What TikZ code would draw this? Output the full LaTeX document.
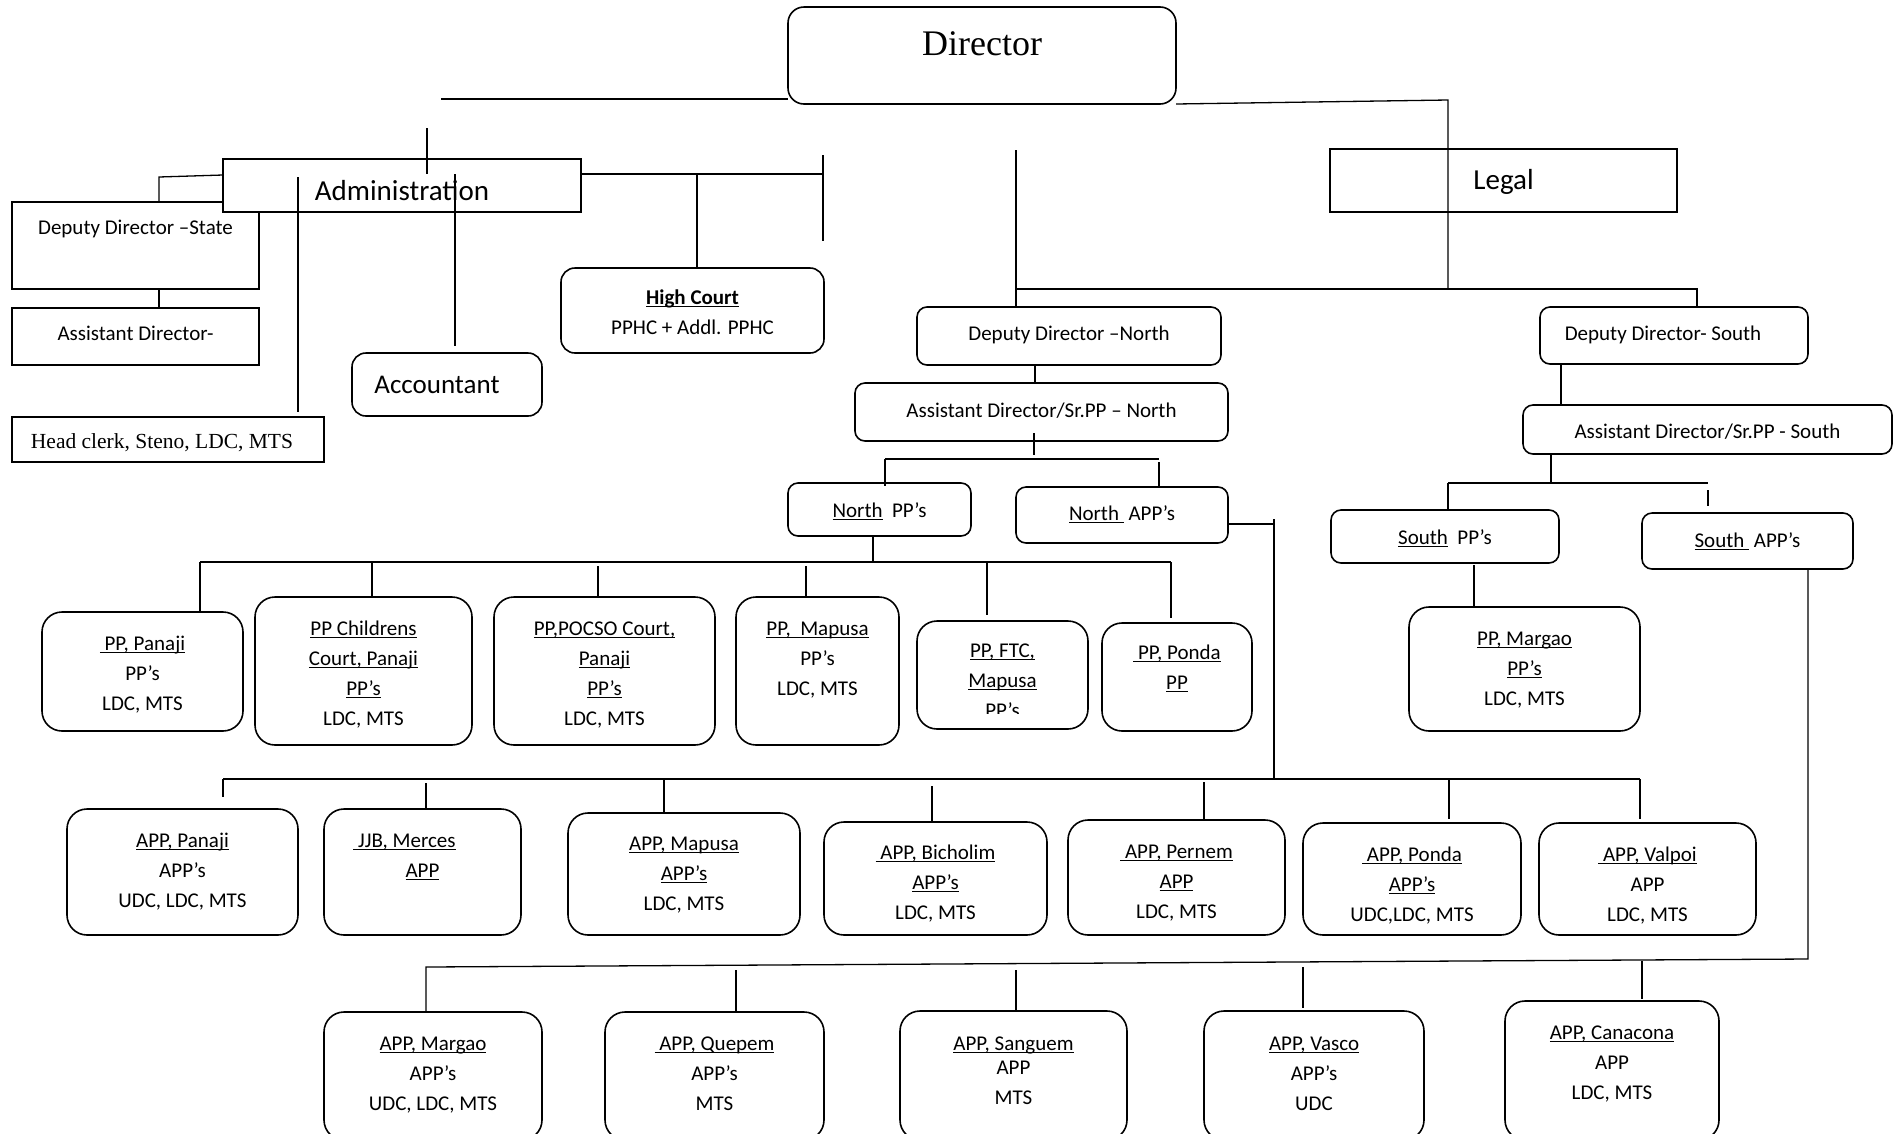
\documentclass[tikz,border=0pt]{standalone}
\usepackage{fontspec}
\setmainfont{Carlito}
\newfontfamily\tnr{Liberation Serif}
\newcommand\ulx[1]{\setbox0=\hbox{#1}\rlap{\rule[-3.2pt]{\wd0}{1.5pt}}\box0}
\tikzset{
  conn/.style={line width=1.3pt},
  sqbox/.style={draw, line width=1.4pt, fill=white, inner sep=0pt, outer sep=0pt},
  rbox/.style={draw, line width=1.6pt, fill=white, rounded corners=20pt, inner sep=0pt, outer sep=0pt},
  rmbox/.style={draw, line width=1.6pt, fill=white, rounded corners=14pt, inner sep=0pt, outer sep=0pt},
  rsbox/.style={draw, line width=1.6pt, fill=white, rounded corners=10pt, inner sep=0pt, outer sep=0pt},
  txt/.style={inner sep=0pt, font=\fontsize{21}{30}\selectfont},
  bigtxt/.style={inner sep=0pt, font=\fontsize{29}{34}\selectfont},
}
% style, name, x1, y1, x2, y2, baseline offset, text
\newcommand\bx[8][rbox]{%
  \node[#1, anchor=north west, minimum width={#5-#3}, minimum height={#6-#4}] (#2) at (#3,#4) {};
  \node[txt, anchor=base] (#2t) at ([yshift=-#7pt]#2.north) {\begin{tabular}[t]{@{}c@{}}#8\end{tabular}};}
\begin{document}
\begin{tikzpicture}[x=1pt,y=-1pt]
\useasboundingbox (0,0) rectangle (1894,1133);
\clip (0,0) rectangle (1894,1133);

% ---------- top level ----------
\node[draw, line width=1.6pt, fill=white, rounded corners=16pt, inner sep=0pt, outer sep=0pt,
      anchor=north west, minimum width=388, minimum height=97] (Director) at (788,7) {};
\node[inner sep=0pt, anchor=base, font=\tnr\fontsize{36}{40}\selectfont] (Directort) at ([yshift=-48pt]Director.north) {Director};

% ---------- administration side ----------
\bx[sqbox]{DDState}{12}{202}{259}{289}{32}{Deputy Director –State}
\node[sqbox, anchor=north west, minimum width=358, minimum height=53] (Admin) at (223,159) {};
\node[bigtxt, anchor=base] (Admint) at ([yshift=-41pt]Admin.north) {Administration};
\bx[sqbox]{AsstDir}{12}{308}{259}{365}{32}{Assistant Director-}
\node[sqbox, anchor=north west, minimum width=312, minimum height=45] (Head) at (12,417) {};
\node[inner sep=0pt, anchor=base, font=\tnr\fontsize{21.5}{26}\selectfont] (Headt) at ([yshift=-31pt]Head.north) {Head clerk, Steno, LDC, MTS\hspace*{12pt}};
\node[rmbox, anchor=north west, minimum width=190, minimum height=63] (Acc) at (352,353) {};
\node[inner sep=0pt, anchor=base, font=\fontsize{27}{32}\selectfont] (Acct) at ([yshift=-40pt]Acc.north) {Accountant\hspace*{20pt}};
\bx[rmbox]{HC}{561}{268}{824}{353}{36}{\ulx{\bfseries High Court}\\PPHC + Addl. PPHC}

% ---------- legal side ----------
\node[sqbox, anchor=north west, minimum width=347, minimum height=63] (Legal) at (1330,149) {};
\node[bigtxt, anchor=base] (Legalt) at ([yshift=-40pt]Legal.north) {Legal};
\bx[rsbox]{DDN}{917}{307}{1221}{365}{33}{Deputy Director –North}
\bx[rsbox]{ADN}{855}{383}{1228}{441}{34}{Assistant Director/Sr.PP – North}
\bx[rsbox]{DDS}{1540}{307}{1808}{364}{33}{Deputy Director- South\hspace*{22pt}}
\bx[rsbox]{ADS}{1523}{405}{1892}{454}{33}{Assistant Director/Sr.PP - South}
\bx[rsbox]{NPP}{788}{483}{971}{536}{34}{\ulx{North}\ \ PP’s}
\bx[rsbox]{NAPP}{1016}{487}{1228}{543}{33}{\ulx{North\ }\ APP’s}
\bx[rsbox]{SPP}{1331}{510}{1559}{563}{34}{\ulx{South}\ \ PP’s}
\bx[rsbox]{SAPP}{1642}{513}{1853}{569}{34}{\ulx{South\ }\ APP’s}

% ---------- PP row ----------
\bx{PPpan}{42}{612}{243}{731}{38}{\ulx{\ PP, Panaji}\\PP’s\\LDC, MTS}
\bx{PPchild}{255}{597}{472}{745}{38}{\ulx{PP Childrens}\\\ulx{Court, Panaji}\\\ulx{PP’s}\\LDC, MTS}
\bx{PPpocso}{494}{597}{715}{745}{38}{\ulx{PP,POCSO Court,}\\\ulx{Panaji}\\\ulx{PP’s}\\LDC, MTS}
\bx{PPmap}{736}{597}{899}{745}{38}{\ulx{PP,\ \ Mapusa}\\PP’s\\LDC, MTS}
\bx{PPftc}{917}{621}{1088}{729}{36}{\ulx{PP, FTC,}\\\ulx{Mapusa}}
\begin{scope}
  \clip (917,690) rectangle (1088,713);
  \node[txt, anchor=base] (PPftc3) at ([yshift=-96pt]PPftc.north) {PP’s};
\end{scope}
\bx{PPponda}{1102}{623}{1252}{731}{36}{\ulx{\ PP, Ponda}\\\ulx{PP}}
\bx{PPmar}{1409}{607}{1640}{731}{38}{\ulx{PP, Margao}\\\ulx{PP’s}\\LDC, MTS}

% ---------- APP row ----------
\bx{APPpan}{67}{809}{298}{935}{38}{\ulx{APP, Panaji}\\APP’s\\UDC, LDC, MTS}
\bx{APPjjb}{324}{809}{521}{935}{38}{\ulx{\ JJB, Merces}\hspace*{36pt}\\\ulx{APP}}
\bx{APPmap}{568}{813}{800}{935}{37}{\ulx{APP, Mapusa}\\\ulx{APP’s}\\LDC, MTS}
\bx{APPbic}{824}{822}{1047}{935}{37}{\ulx{\ APP, Bicholim}\\\ulx{APP’s}\\LDC, MTS}
\bx{APPper}{1068}{820}{1285}{935}{38}{\ulx{\ APP, Pernem}\\\ulx{APP}\\LDC, MTS}
\bx{APPpon}{1303}{823}{1521}{935}{38}{\ulx{\ APP, Ponda}\\\ulx{APP’s}\\UDC,LDC, MTS}
\bx{APPval}{1539}{823}{1756}{935}{38}{\ulx{\ APP, Valpoi}\\APP\\LDC, MTS}

% ---------- bottom row ----------
\bx{APPmar}{324}{1012}{542}{1140}{38}{\ulx{APP, Margao}\\APP’s\\UDC, LDC, MTS}
\bx{APPque}{605}{1012}{824}{1140}{38}{\ulx{\ APP, Quepem}\\APP’s\\MTS}
\bx{APPsan}{900}{1011}{1127}{1140}{39}{\ulx{APP, Sanguem}\\[-6pt]APP\\MTS}
\bx{APPvas}{1204}{1011}{1424}{1140}{39}{\ulx{APP, Vasco}\\APP’s\\UDC}
\bx{APPcan}{1505}{1001}{1719}{1140}{38}{\ulx{APP, Canacona}\\APP\\LDC, MTS}

% ---------- connectors: director ----------
\coordinate (dl) at (441,99);
\draw[conn] (dl) -- (dl -| Director.west);
\coordinate (dr1) at (1448,100);
\coordinate (dr2) at (1448,289);
\draw[conn] (Director.south east) -- (dr1) -- (dr2);
\coordinate (nt) at (1016,150);
\coordinate (nb) at (1016,289);
\coordinate (sb) at (1697,289);
\draw[conn] (nt) -- (nb |- DDN.north);
\draw[conn] (nb) -- (sb) -- (sb |- DDS.north);

% ---------- connectors: administration ----------
\coordinate (a0) at (427,128);
\draw[conn] (a0) -- ++(0,46);
\coordinate (a1) at (455,174);
\draw[conn] (a1) -- ++(0,172);
\coordinate (a2) at (298,177);
\draw[conn] (a2) -- ++(0,235);
\coordinate (a3) at (223,175);
\coordinate (a4) at (159,177);
\draw[conn] (a3) -- (a4) -- (a4 |- DDState.north);
\draw[conn] (a4 |- DDState.south) -- (a4 |- AsstDir.north);
\coordinate (a5) at (823,174);
\draw[conn] (Admin.east |- a5) -- (a5);
\draw[conn] ([yshift=19pt]a5) -- ([yshift=-67pt]a5);
\coordinate (a6) at (697,174);
\draw[conn] (a6) -- (a6 |- HC.north);

% ---------- connectors: north ----------
\coordinate (n1) at (1035,0);
\draw[conn] (n1 |- DDN.south) -- (n1 |- ADN.north);
\coordinate (n2) at (1034,433);
\draw[conn] (n2) -- ++(0,22);
\coordinate (n3) at (885,459);
\coordinate (n4) at (1159,459);
\draw[conn] (n3) -- (n4);
\draw[conn] (n3) -- ([yshift=-3pt]n3 |- NPP.north);
\draw[conn] ([yshift=-3pt]n4) -- (n4 |- NAPP.north);
\coordinate (n5) at (873,562);
\draw[conn] (n5 |- NPP.south) -- (n5);
\coordinate (p0) at (200,562);
\coordinate (p6) at (1171,562);
\draw[conn] (p0) -- (p6);
\draw[conn] (p0) -- (p0 |- PPpan.north);
\coordinate (p1) at (372,562);
\draw[conn] (p1) -- (p1 |- PPchild.north);
\coordinate (p2) at (598,566);
\draw[conn] (p2) -- (p2 |- PPpocso.north);
\coordinate (p3) at (806,566);
\draw[conn] (p3) -- (p3 |- PPmap.north);
\coordinate (p4) at (987,562);
\draw[conn] (p4) -- ([yshift=6pt]p4 |- PPftc.north);
\draw[conn] (p6) -- ([yshift=5pt]p6 |- PPponda.north);

\coordinate (q0) at (1274,524);
\coordinate (q1) at (1274,779);
\draw[conn] (NAPP.east |- q0) -- (q0);
\draw[conn] ([yshift=5pt]q0) -- (q1);
\coordinate (r0) at (223,779);
\coordinate (r6) at (1640,779);
\draw[conn] (r0) -- (r6);
\draw[conn] (r0) -- ++(0,18);
\coordinate (r1) at (426,783);
\draw[conn] (r1) -- (r1 |- APPjjb.north);
\coordinate (r2) at (664,779);
\draw[conn] (r2) -- (r2 |- APPmap.north);
\coordinate (r3) at (932,786);
\draw[conn] (r3) -- (r3 |- APPbic.north);
\coordinate (r4) at (1204,782);
\draw[conn] (r4) -- (r4 |- APPper.north);
\coordinate (r5) at (1449,779);
\draw[conn] (r5) -- ([yshift=4pt]r5 |- APPpon.north);
\draw[conn] (r6) -- ([yshift=4pt]r6 |- APPval.north);

% ---------- connectors: south ----------
\coordinate (s1) at (1561,0);
\draw[conn] (s1 |- DDS.south) -- (s1 |- ADS.north);
\coordinate (s2) at (1551,483);
\draw[conn] (s2 |- ADS.south) -- (s2);
\coordinate (s3) at (1448,483);
\coordinate (s4) at (1708,483);
\draw[conn] (s3) -- (s4);
\draw[conn] (s3) -- (s3 |- SPP.north);
\draw[conn] ([yshift=-7pt]s4) -- ([yshift=7pt]s4 |- SAPP.north);
\coordinate (s5) at (1474,565);
\draw[conn] (s5) -- (s5 |- PPmar.north);
\coordinate (t0) at (1808,959);
\coordinate (t1) at (426,967);
\draw[conn] (t0 |- SAPP.south) -- (t0) -- (t1) -- (t1 |- APPmar.north);
\coordinate (t2) at (736,970);
\draw[conn] (t2) -- (t2 |- APPque.north);
\coordinate (t3) at (1016,970);
\draw[conn] (t3) -- (t3 |- APPsan.north);
\coordinate (t4) at (1303,967);
\draw[conn] (t4) -- ([yshift=3pt]t4 |- APPvas.north);
\coordinate (t5) at (1642,961);
\draw[conn] (t5) -- ([yshift=2pt]t5 |- APPcan.north);
\end{tikzpicture}
\end{document}
